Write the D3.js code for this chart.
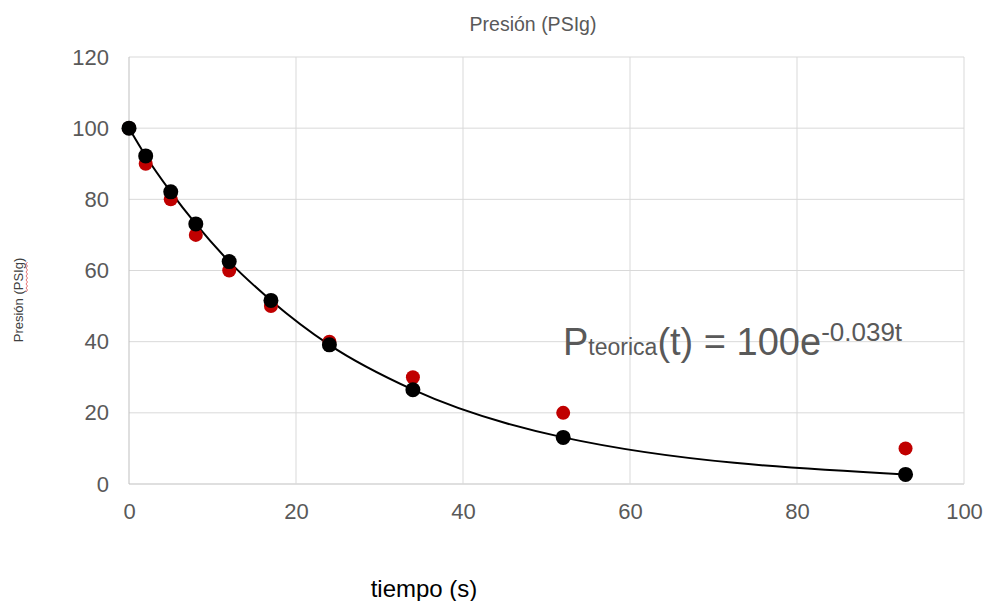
<!DOCTYPE html>
<html>
<head>
<meta charset="utf-8">
<script src="https://cdn.jsdelivr.net/npm/d3@7"></script>
<style>
  body { margin: 0; background: #fff; }
  text { font-family: "Liberation Sans", Arial, sans-serif; }
</style>
</head>
<body>
<div id="chart"></div>
<script>
// tiempo (s)
var tiempos = [0, 2, 5, 8, 12, 17, 24, 34, 52, 93];
// presion experimental (rojo)
var presionExp = [100, 90, 80, 70, 60, 50, 40, 30, 20, 10];
// presion teorica (negro)
var presionTeo = [100, 92.2, 82.1, 73.1, 62.5, 51.6, 39.1, 26.5, 13.1, 2.7];
var xTicks = [0, 20, 40, 60, 80, 100];
var yTicks = [0, 20, 40, 60, 80, 100, 120];

var width = 989, height = 601;
var margin = { top: 57, right: 25, bottom: 117, left: 129 };
var w = 964 - margin.left, h = 484 - margin.top;

var svg = d3.select("#chart")
    .append("svg")
    .attr("width", width)
    .attr("height", height);

var g = svg.append("g")
    .attr("transform", "translate(" + margin.left + "," + margin.top + ")");

var x = d3.scaleLinear().domain([0, 100]).range([0, w]);
var y = d3.scaleLinear().domain([0, 120]).range([h, 0]);

// grid
g.append("g")
    .selectAll("line.h")
    .data(yTicks)
    .join("line")
    .attr("x1", 0).attr("x2", w)
    .attr("y1", function (d) { return y(d); })
    .attr("y2", function (d) { return y(d); })
    .attr("stroke", function (d) { return d === 0 ? "#bfbfbf" : "#d9d9d9"; })
    .attr("stroke-width", 1);
g.append("g")
    .selectAll("line.v")
    .data(xTicks)
    .join("line")
    .attr("y1", 0).attr("y2", h)
    .attr("x1", function (d) { return x(d); })
    .attr("x2", function (d) { return x(d); })
    .attr("stroke", function (d) { return d === 0 ? "#bfbfbf" : "#d9d9d9"; })
    .attr("stroke-width", 1);

// axes
var xAxis = d3.axisBottom(x).tickValues(xTicks).tickSize(0).tickPadding(19);
var yAxis = d3.axisLeft(y).tickValues(yTicks).tickSize(0).tickPadding(20);

g.append("g")
    .attr("transform", "translate(0," + h + ")")
    .call(xAxis)
    .call(function (s) { s.select(".domain").remove(); })
    .selectAll("text")
    .attr("font-size", 22)
    .attr("fill", "#595959")
    .style("font-family", "Liberation Sans, Arial, sans-serif");

g.append("g")
    .call(yAxis)
    .call(function (s) { s.select(".domain").remove(); })
    .selectAll("text")
    .attr("font-size", 22)
    .attr("fill", "#595959")
    .style("font-family", "Liberation Sans, Arial, sans-serif");

// curve
var pts = tiempos.map(function (t, i) { return [t, presionTeo[i]]; });
var line = d3.line()
    .x(function (d) { return x(d[0]); })
    .y(function (d) { return y(d[1]); })
    .curve(d3.curveMonotoneX);

g.append("path")
    .datum(pts)
    .attr("d", line)
    .attr("fill", "none")
    .attr("stroke", "#000")
    .attr("stroke-width", 2);

// experimental points
g.append("g")
    .selectAll("circle")
    .data(tiempos)
    .join("circle")
    .attr("cx", function (d) { return x(d); })
    .attr("cy", function (d, i) { return y(presionExp[i]); })
    .attr("r", 7)
    .attr("fill", "#c00000");

// teorica points
g.append("g")
    .selectAll("circle")
    .data(tiempos)
    .join("circle")
    .attr("cx", function (d) { return x(d); })
    .attr("cy", function (d, i) { return y(presionTeo[i]); })
    .attr("r", 7.5)
    .attr("fill", "#000");

// title
svg.append("text")
    .attr("x", 533).attr("y", 31)
    .attr("text-anchor", "middle")
    .attr("font-size", 19.5)
    .attr("fill", "#595959")
    .text("Presión (PSIg)");

// y label
var yl = svg.append("g")
    .attr("transform", "translate(23,300) rotate(-90)");
yl.append("text")
    .attr("text-anchor", "middle")
    .attr("font-size", 13)
    .attr("fill", "#404040")
    .text("Presión (PSIg)");
// spell-check squiggle under PSIg
var sq = [];
for (var i = 0; i <= 15; i++) sq.push([8 + i * 2, 3 + (i % 2 ? 1.5 : 0)]);
yl.append("path")
    .attr("d", d3.line()(sq))
    .attr("fill", "none")
    .attr("stroke", "#e05050")
    .attr("stroke-width", 0.8);

// x label
svg.append("text")
    .attr("x", 424).attr("y", 597)
    .attr("text-anchor", "middle")
    .attr("font-size", 24)
    .attr("fill", "#000")
    .text("tiempo (s)");

// equation
var eq = svg.append("text")
    .attr("x", 563).attr("y", 355)
    .attr("font-size", 38)
    .attr("fill", "#595959");
eq.append("tspan").text("P");
eq.append("tspan").attr("font-size", 23).text("teorica");
eq.append("tspan").text("(t) = 100e");
eq.append("tspan").attr("font-size", 26).attr("dy", -14).text("-0.039t");
</script>
</body>
</html>
